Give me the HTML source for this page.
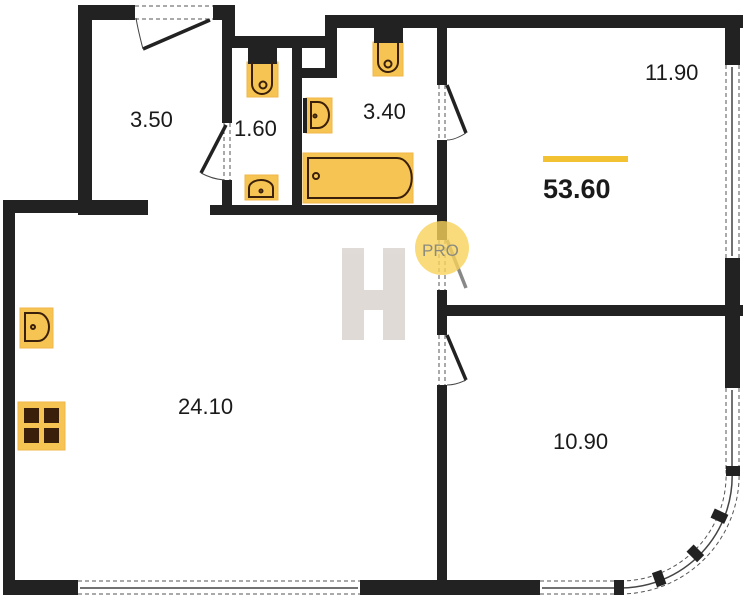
<!DOCTYPE html>
<html><head><meta charset="utf-8"><style>
html,body{margin:0;padding:0;background:#fff}
svg{display:block}
text{font-family:"Liberation Sans",sans-serif;fill:#1a1a1a}
</style></head><body>
<svg width="743" height="600" viewBox="0 0 743 600" xmlns="http://www.w3.org/2000/svg">
<g fill="#222">
<rect x="78" y="5" width="14" height="210"/>
<rect x="78" y="5" width="57" height="15"/>
<rect x="213" y="5" width="22" height="15"/>
<rect x="222" y="5" width="13" height="43"/>
<rect x="78" y="200" width="70" height="15"/>
<rect x="222" y="36" width="113" height="12"/>
<rect x="222" y="36" width="10" height="87"/>
<rect x="222" y="180" width="10" height="35"/>
<rect x="292" y="48" width="10" height="160"/>
<rect x="302" y="68" width="35" height="10"/>
<rect x="325" y="15" width="418" height="13"/>
<rect x="325" y="15" width="12" height="63"/>
<rect x="437" y="28" width="10" height="57"/>
<rect x="437" y="140" width="10" height="100"/>
<rect x="210" y="205" width="237" height="10"/>
<rect x="3" y="200" width="12" height="395"/>
<rect x="3" y="200" width="145" height="13"/>
<rect x="437" y="290" width="10" height="45"/>
<rect x="437" y="385" width="10" height="200"/>
<rect x="437" y="305" width="306" height="11"/>
<rect x="725" y="15" width="15" height="50"/>
<rect x="725" y="258" width="15" height="130"/>
<rect x="3" y="580" width="75" height="15"/>
<rect x="360" y="580" width="180" height="15"/>
</g>
<g stroke="#555" stroke-width="1" stroke-dasharray="4,3" fill="none">
<line x1="135" y1="6" x2="213" y2="6"/><line x1="135" y1="19" x2="213" y2="19"/>
<line x1="78" y1="581" x2="360" y2="581"/><line x1="78" y1="594" x2="360" y2="594"/>
<line x1="540" y1="581" x2="620" y2="581"/><line x1="540" y1="594" x2="620" y2="594"/>
<line x1="726" y1="65" x2="726" y2="258"/><line x1="739" y1="65" x2="739" y2="258"/>
<line x1="726" y1="388" x2="726" y2="470"/><line x1="739" y1="388" x2="739" y2="470"/>
<path d="M620 581 A106 106 0 0 0 726 470"/>
<path d="M620 594 A119 119 0 0 0 739 470"/>
<line x1="224" y1="123" x2="224" y2="180"/><line x1="230" y1="123" x2="230" y2="180"/>
<line x1="439" y1="85" x2="439" y2="140"/><line x1="445" y1="85" x2="445" y2="140"/>
<line x1="439" y1="240" x2="439" y2="290"/><line x1="445" y1="240" x2="445" y2="290"/>
<line x1="439" y1="335" x2="439" y2="385"/><line x1="445" y1="335" x2="445" y2="385"/>
</g>
<g stroke="#444" stroke-width="1.5" fill="none">
<line x1="80" y1="588" x2="358" y2="588"/>
<line x1="542" y1="588" x2="620" y2="588"/>
<line x1="732" y1="67" x2="732" y2="256"/>
<line x1="732" y1="390" x2="732" y2="470"/>
<path d="M620 588 A112 112 0 0 0 732 470"/>
</g>
<g fill="#222">
<rect x="614" y="580" width="10" height="15"/>
<rect x="654" y="571" width="10" height="15" transform="rotate(-20 659 578)"/>
<rect x="690" y="546" width="10" height="15" transform="rotate(-45 695 553)"/>
<rect x="714" y="509" width="10" height="15" transform="rotate(-65 719 516)"/>
<rect x="726" y="466" width="14" height="10"/>
</g>
<g stroke="#222" stroke-width="3.5">
<line x1="210" y1="20" x2="143" y2="49"/>
<line x1="226" y1="125" x2="201" y2="173"/>
<line x1="447" y1="85" x2="466" y2="133"/>
<line x1="447" y1="240" x2="466" y2="288" stroke="#888"/>
<line x1="447" y1="335" x2="466" y2="380"/>
</g>
<g stroke="#444" stroke-width="1" fill="none">
<path d="M143 49 Q138 30 136 18"/><path d="M201 173 Q212 179 224 180"/>
<path d="M466 133 Q455 140 447 140"/><path d="M466 380 Q456 385 447 385"/>
</g>
<g fill="#f6c453" stroke="#f1b74a">
<rect x="247" y="62" width="31" height="35"/>
<rect x="373" y="42" width="30" height="34"/>
<rect x="306" y="98" width="26" height="35"/>
<rect x="245" y="175" width="33" height="25"/>
<rect x="303" y="153" width="110" height="50"/>
<rect x="20" y="308" width="33" height="40"/>
<rect x="18" y="402" width="47" height="48"/>
</g>
<g fill="#222">
<rect x="248" y="48" width="29" height="16"/>
<rect x="374" y="28" width="29" height="15"/>
<rect x="303" y="98" width="4" height="35"/>
</g>
<g fill="none" stroke="#3a1f0a" stroke-width="2">
<path d="M252 62 V84 a10 10 0 0 0 20 0 V62"/><circle cx="263" cy="85" r="3.5"/>
<path d="M378 43 V62 a10 10 0 0 0 20 0 V43"/><circle cx="388" cy="64" r="3.5"/>
<path d="M311 102 H318 a11 13 0 0 1 0 26 H311 Z"/><circle cx="315" cy="116" r="1.5"/>
<path d="M249 197 V188 a12 8 0 0 1 24 0 V197 Z"/><circle cx="261" cy="191" r="1.5"/>
<path d="M308 158 H397 a14 19 0 0 1 0 40 H308 Z"/><circle cx="316" cy="176" r="3"/>
<path d="M25 313 V341 H38 a11 14 0 0 0 0 -28 Z"/><circle cx="33" cy="327" r="2"/>
</g>
<g fill="#3a1f0a">
<rect x="24" y="408" width="15" height="15"/><rect x="44" y="408" width="15" height="15"/>
<rect x="24" y="428" width="15" height="15"/><rect x="44" y="428" width="15" height="15"/>
</g>
<g fill="#d8d2cd" opacity="0.8">
<rect x="342" y="248" width="22" height="92"/><rect x="383" y="248" width="22" height="92"/>
<rect x="364" y="290" width="19" height="20"/>
</g>
<circle cx="442" cy="248" r="27" fill="#f7d25a" opacity="0.8"/>
<text x="422" y="256" font-size="17" style="fill:#8a8a80">PRO</text>
<rect x="543" y="156" width="85" height="6" fill="#f2c233"/>
<text x="543" y="198" font-size="27" font-weight="bold">53.60</text>
<g font-size="22">
<text x="130" y="127">3.50</text>
<text x="234" y="136">1.60</text>
<text x="363" y="119">3.40</text>
<text x="645" y="80">11.90</text>
<text x="178" y="414">24.10</text>
<text x="553" y="449">10.90</text>
</g>
</svg>
</body></html>
